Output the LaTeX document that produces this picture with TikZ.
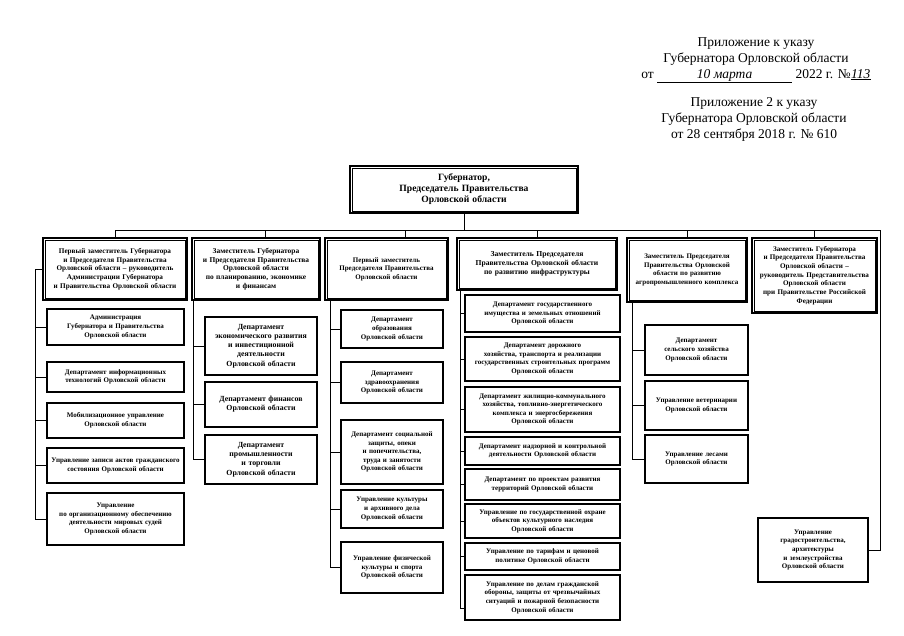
\documentclass[tikz,border=0pt]{standalone}
\usepackage{fontspec}
\setmainfont{Liberation Serif}
\usepackage{tikz}

\tikzset{
  headbox/.style = {draw, line width=1.1pt, align=center,
                    inner sep=2pt, font=\fontsize{7}{8.6}\selectfont\bfseries},
  innerframe/.style = {line width=0.6pt},
  unitbox/.style = {draw, line width=1.3pt, align=center, inner sep=2pt,
                    font=\fontsize{7}{8.6}\selectfont\bfseries},
  link/.style    = {line width=0.9pt},
  annot/.style   = {align=center, inner sep=0pt, anchor=north,
                    font=\fontsize{13.5}{16}\selectfont}
}

\begin{document}
\begin{tikzpicture}[x=1pt, y=-1pt]
        \useasboundingbox (0,0) rectangle (904,636);

        % header of the decree
        \node[annot] (appx1) at (756,37) {Приложение к указу\\Губернатора Орловской области\\
          от \underline{\makebox[135pt]{\itshape 10 марта}} 2022 г. №\underline{\makebox[20pt]{\itshape 113}}};
        \node[annot] (appx2) at (754,97) {Приложение 2 к указу\\Губернатора Орловской области\\
          от 28 сентября 2018 г. № 610};

        % governor
        \node[headbox, font=\fontsize{9.6}{11}\selectfont\bfseries, text width=224pt, minimum height=47pt]
          (gov) at (464,189.5) {Губернатор,\\Председатель Правительства\\Орловской области};

        % deputies
        \node[headbox, font=\fontsize{7.2}{8.8}\selectfont\bfseries, text width=140pt, minimum height=62pt] (h1) at (115,269)
          {Первый заместитель Губернатора\\и Председателя Правительства\\Орловской области – руководитель\\Администрации Губернатора\\и Правительства Орловской области};
        \node[headbox, font=\fontsize{7.4}{8.8}\selectfont\bfseries, text width=124pt, minimum height=62pt] (h2) at (256,269)
          {Заместитель Губернатора\\и Председателя Правительства\\Орловской области\\по планированию, экономике\\и финансам};
        \node[headbox, text width=119pt, minimum height=62pt] (h3) at (386.5,269)
          {Первый заместитель\\Председателя Правительства\\Орловской области};
        \node[headbox, font=\fontsize{7.6}{9}\selectfont\bfseries, text width=156pt, minimum height=52pt] (h4) at (537,264)
          {Заместитель Председателя\\Правительства Орловской области\\по развитию инфраструктуры};
        \node[headbox, text width=116pt, minimum height=64pt] (h5) at (687,270)
          {Заместитель Председателя\\Правительства Орловской\\области по развитию\\агропромышленного комплекса};
        \node[headbox, font=\fontsize{7.1}{8.7}\selectfont\bfseries, text width=121pt, minimum height=75pt] (h6) at (814.5,275.5)
          {Заместитель Губернатора\\и Председателя Правительства\\Орловской области –\\руководитель Представительства\\Орловской области\\при Правительстве Российской\\Федерации};

        % second line of the double frames
        \foreach \h in {gov,h1,h2,h3,h4,h5,h6}
          \draw[innerframe] ([xshift=2.6pt,yshift=-2.6pt]\h.north west) rectangle ([xshift=-2.6pt,yshift=2.6pt]\h.south east);

        % units, first column
        \node[unitbox, text width=133pt, minimum height=36pt] (u1a) at (115.5,327) {Администрация\\Губернатора и Правительства\\Орловской области};
        \node[unitbox, text width=133pt, minimum height=30pt] (u1b) at (115.5,377) {Департамент информационных\\технологий Орловской области};
        \node[unitbox, text width=133pt, minimum height=35pt] (u1c) at (115.5,420.5) {Мобилизационное управление\\Орловской области};
        \node[unitbox, text width=133pt, minimum height=35pt] (u1d) at (115.5,465.5) {Управление записи актов гражданского\\состояния Орловской области};
        \node[unitbox, text width=133pt, minimum height=52pt] (u1e) at (115.5,519) {Управление\\по организационному обеспечению\\деятельности мировых судей\\Орловской области};

        % units, second column
        \node[unitbox, font=\fontsize{7.8}{9.2}\selectfont\bfseries, text width=108pt, minimum height=58pt] (u2a) at (261,346) {Департамент\\экономического развития\\и инвестиционной\\деятельности\\Орловской области};
        \node[unitbox, font=\fontsize{7.8}{9.2}\selectfont\bfseries, text width=108pt, minimum height=45pt] (u2b) at (261,404.5) {Департамент финансов\\Орловской области};
        \node[unitbox, font=\fontsize{7.8}{9.2}\selectfont\bfseries, text width=108pt, minimum height=49pt] (u2c) at (261,459.5) {Департамент\\промышленности\\и торговли\\Орловской области};

        % units, third column
        \node[unitbox, text width=98pt, minimum height=38pt] (u3a) at (392,329) {Департамент\\образования\\Орловской области};
        \node[unitbox, text width=98pt, minimum height=41pt] (u3b) at (392,382.5) {Департамент\\здравоохранения\\Орловской области};
        \node[unitbox, text width=98pt, minimum height=64pt] (u3c) at (392,452) {Департамент социальной\\защиты, опеки\\и попечительства,\\труда и занятости\\Орловской области};
        \node[unitbox, text width=98pt, minimum height=38pt] (u3d) at (392,509) {Управление культуры\\и архивного дела\\Орловской области};
        \node[unitbox, text width=98pt, minimum height=51pt] (u3e) at (392,567.5) {Управление физической\\культуры и спорта\\Орловской области};

        % units, fourth column
        \node[unitbox, text width=151pt, minimum height=37pt] (u4a) at (542.5,313.5) {Департамент государственного\\имущества и земельных отношений\\Орловской области};
        \node[unitbox, text width=151pt, minimum height=44pt] (u4b) at (542.5,359) {Департамент дорожного\\хозяйства, транспорта и реализации\\государственных строительных программ\\Орловской области};
        \node[unitbox, text width=151pt, minimum height=45pt] (u4c) at (542.5,409.5) {Департамент жилищно-коммунального\\хозяйства, топливно-энергетического\\комплекса и энергосбережения\\Орловской области};
        \node[unitbox, text width=151pt, minimum height=28pt] (u4d) at (542.5,451) {Департамент надзорной и контрольной\\деятельности Орловской области};
        \node[unitbox, text width=151pt, minimum height=31pt] (u4e) at (542.5,484.5) {Департамент по проектам развития\\территорий Орловской области};
        \node[unitbox, text width=151pt, minimum height=34pt] (u4f) at (542.5,521) {Управление по государственной охране\\объектов культурного наследия\\Орловской области};
        \node[unitbox, text width=151pt, minimum height=27pt] (u4g) at (542.5,556.5) {Управление по тарифам и ценовой\\политике Орловской области};
        \node[unitbox, text width=151pt, minimum height=45pt] (u4h) at (542.5,597.5) {Управление по делам гражданской\\обороны, защиты от чрезвычайных\\ситуаций и пожарной безопасности\\Орловской области};

        % units, fifth column
        \node[unitbox, text width=99pt, minimum height=50pt] (u5a) at (696.5,350) {Департамент\\сельского хозяйства\\Орловской области};
        \node[unitbox, text width=99pt, minimum height=49pt] (u5b) at (696.5,405.5) {Управление ветеринарии\\Орловской области};
        \node[unitbox, text width=99pt, minimum height=48pt] (u5c) at (696.5,459) {Управление лесами\\Орловской области};

        % unit, sixth column
        \node[unitbox, text width=106pt, minimum height=64pt] (u6a) at (813,550) {Управление\\градостроительства,\\архитектуры\\и землеустройства\\Орловской области};

        % bus
        \coordinate (busL) at (115,230);
        \coordinate (busR) at (880,230);
        \draw[link] (gov.south) -- (gov.south |- busL);
        \draw[link] (busL) -- (busR) -- (busR |- u6a.east) -- (u6a.east);
        \foreach \h in {h1,h4,h5,h6}
          \draw[link] (\h.north) -- (\h.north |- busL);
        \draw[link] ([xshift=9pt]h2.north) -- ([xshift=9pt]h2.north |- busL);
        \draw[link] ([xshift=19pt]h3.north) -- ([xshift=19pt]h3.north |- busL);

        % spines
        \coordinate (s1) at (35,269);
        \draw[link] (h1.west) -- (s1) |- (u1e.west);
        \foreach \u in {u1a,u1b,u1c,u1d}
          \draw[link] (\u.west -| s1) -- (\u.west);

        \coordinate (s2) at ([xshift=2pt]h2.south west);
        \draw[link] (s2) |- (u2c.west);
        \foreach \u in {u2a,u2b}
          \draw[link] (\u.west -| s2) -- (\u.west);

        \coordinate (s3) at ([xshift=6pt]h3.south west);
        \draw[link] (s3) |- (u3e.west);
        \foreach \u in {u3a,u3b,u3c,u3d}
          \draw[link] (\u.west -| s3) -- (\u.west);

        \coordinate (s4) at ([xshift=4pt]h4.south west);
        \draw[link] (s4) |- ([yshift=-11pt]u4h.west);
        \foreach \u in {u4a,u4b,u4c,u4d,u4e,u4f,u4g}
          \draw[link] (\u.west -| s4) -- (\u.west);

        \coordinate (s5) at ([xshift=6pt]h5.south west);
        \draw[link] (s5) |- (u5c.west);
        \foreach \u in {u5a,u5b}
          \draw[link] (\u.west -| s5) -- (\u.west);
\end{tikzpicture}
\end{document}
